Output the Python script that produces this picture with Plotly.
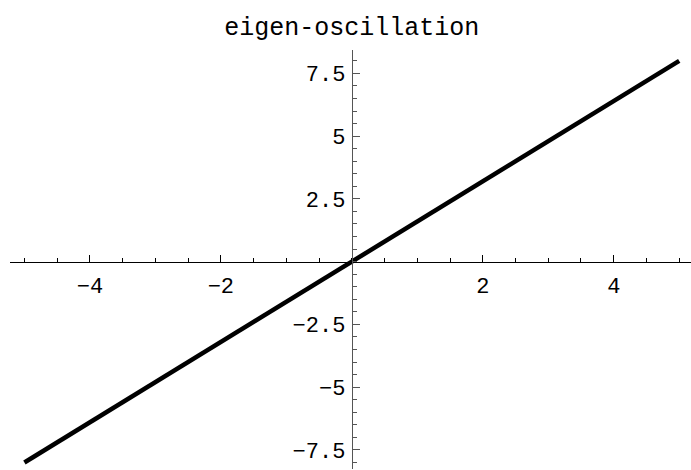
import numpy as np
import plotly.graph_objects as go

# straight-line eigen-oscillation sampled over [-5, 5]
x_vals = [-5.0, -2.5, 0.0, 2.5, 5.0]
y_vals = [-8.0, -4.0, 0.0, 4.0, 8.0]

x_ticks = [-4, -2, 2, 4]
x_tick_text = ["−4", "−2", "2", "4"]
y_ticks = [-7.5, -5, -2.5, 2.5, 5, 7.5]
y_tick_text = ["−7.5", "−5", "−2.5", "2.5", "5", "7.5"]

x_range = [-5.22, 5.18]
y_range = [-8.26, 8.43]

font_family = "Courier New, Liberation Mono, monospace"

fig = go.Figure()
fig.add_trace(go.Scatter(
    x=x_vals, y=y_vals, mode="lines",
    line=dict(color="black", width=4.5),
    hoverinfo="skip", showlegend=False,
))

x_zero = (0 - x_range[0]) / (x_range[1] - x_range[0])
y_zero = (0 - y_range[0]) / (y_range[1] - y_range[0])

fig.update_layout(
    width=691, height=470,
    margin=dict(l=10, r=0, t=50, b=1),
    paper_bgcolor="white", plot_bgcolor="white",
    title=dict(
        text="eigen-oscillation",
        x=x_zero * (681 / 691) + 10 / 691, xanchor="center",
        y=1 - 26 / 470, yanchor="middle",
        font=dict(family=font_family, size=25, color="black"),
    ),
    xaxis=dict(
        range=x_range, showgrid=False, zeroline=False,
        showline=True, linecolor="black", linewidth=1,
        anchor="free", position=y_zero,
        tickmode="array", tickvals=x_ticks, ticktext=x_tick_text,
        ticks="inside", ticklen=7, tickwidth=1, tickcolor="black",
        minor=dict(dtick=0.5, tick0=0, ticks="inside", ticklen=4,
                   tickwidth=1, tickcolor="black"),
        tickfont=dict(family=font_family, size=22, color="black"),
        ticklabelstandoff=4,
    ),
    yaxis=dict(
        range=y_range, showgrid=False, zeroline=False,
        showline=True, linecolor="#555555", linewidth=1,
        anchor="free", position=x_zero,
        tickmode="array", tickvals=y_ticks, ticktext=y_tick_text,
        ticks="inside", ticklen=7, tickwidth=1, tickcolor="#555555",
        minor=dict(dtick=0.5, tick0=0, ticks="inside", ticklen=4,
                   tickwidth=1, tickcolor="#555555"),
        tickfont=dict(family=font_family, size=22, color="black"),
        ticklabelstandoff=2,
    ),
)

fig.write_html("out.html")
